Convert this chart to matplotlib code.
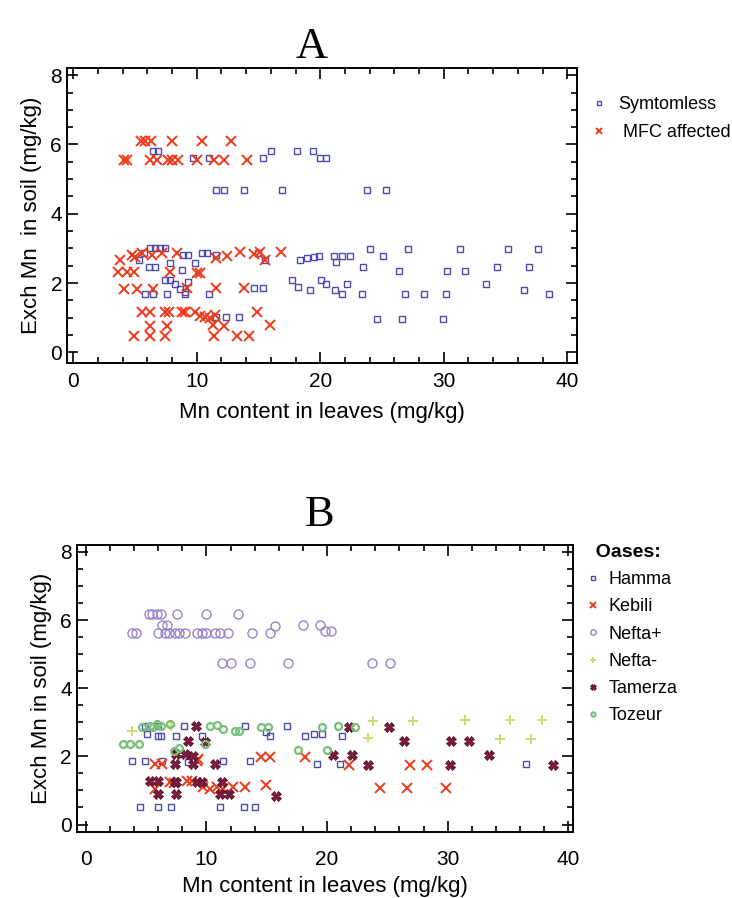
import numpy as np
import matplotlib
matplotlib.use("Agg")
import matplotlib.pyplot as plt
from matplotlib.ticker import MultipleLocator

plt.rcParams['font.family'] = ['Liberation Sans', 'DejaVu Sans']

# ---- panel A : symptomless vs MFC affected ----
sym_x = [6.5, 6.9, 9.7, 11.0, 15.4, 16.0, 18.1, 19.4, 20.0, 20.5,
         11.6, 12.2, 13.8, 16.9, 23.8, 25.3,
         6.2, 6.6, 7.0, 7.45, 5.7, 8.9, 9.3, 10.4, 10.8, 11.6, 5.3, 6.1, 6.6, 7.85,
         9.9, 8.8, 7.45, 7.85, 8.26, 8.66, 9.07, 9.3, 5.83, 6.5, 7.58, 9.07, 11.0,
         12.4, 13.4, 11.6, 14.6, 15.4, 15.0, 15.55,
         18.4, 18.9, 19.5, 19.9, 17.7, 18.2, 19.2,
         20.1, 20.5, 21.2, 21.3, 21.1, 21.8, 22.4, 21.8, 22.2, 23.4, 23.5, 24.0,
         24.6, 25.1, 26.4, 26.6, 26.9, 27.1, 28.4, 29.9, 30.2, 30.3, 31.3, 31.7,
         33.4, 34.3, 35.2, 36.5, 36.9, 37.6, 38.5]
sym_y = [5.8, 5.8, 5.6, 5.6, 5.6, 5.8, 5.8, 5.8, 5.6, 5.6,
         4.7, 4.7, 4.7, 4.7, 4.7, 4.7,
         3.0, 3.0, 3.0, 3.0, 2.86, 2.81, 2.81, 2.86, 2.86, 2.81, 2.66, 2.47, 2.47, 2.57,
         2.57, 2.37, 2.08, 2.08, 1.98, 1.84, 1.74, 2.03, 1.69, 1.69, 1.69, 1.69, 1.69,
         1.01, 1.01, 1.01, 1.86, 1.86, 2.88, 2.66,
         2.66, 2.71, 2.76, 2.78, 2.08, 1.88, 1.79,
         2.08, 1.98, 1.79, 2.61, 2.78, 2.78, 2.78, 1.68, 1.96, 1.68, 2.46, 2.97,
         0.96, 2.78, 2.36, 0.96, 1.68, 2.97, 1.68, 0.96, 1.68, 2.36, 2.97, 2.36,
         1.96, 2.46, 2.97, 1.79, 2.46, 2.97, 1.68]

mfc_x = [5.5, 5.8, 6.3, 8.0, 10.4, 12.8,
         4.1, 4.35, 6.2, 6.8, 7.7, 8.0, 8.5, 10.0, 11.4, 12.2, 14.1,
         3.8, 4.75, 5.0, 5.56, 6.37, 7.2, 8.4, 7.85, 10.0, 10.3, 3.67, 4.35, 4.9,
         4.1, 5.15, 6.5, 9.2, 11.6, 11.6, 12.44, 13.5, 14.6, 15.1, 15.5, 16.8, 13.8,
         5.56, 6.23, 7.45, 7.72, 8.8, 9.07, 9.9, 10.3, 10.7, 11.1, 11.5, 12.2,
         6.23, 7.6, 11.3, 4.9, 6.23, 7.45, 11.4, 13.25, 14.2, 14.9, 15.95]
mfc_y = [6.1, 6.1, 6.1, 6.1, 6.1, 6.1,
         5.55, 5.55, 5.55, 5.55, 5.55, 5.55, 5.55, 5.55, 5.55, 5.55, 5.55,
         2.66, 2.81, 2.76, 2.86, 2.81, 2.86, 2.86, 2.32, 2.3, 2.3, 2.32, 2.32, 2.32,
         1.84, 1.84, 1.84, 1.86, 1.86, 2.71, 2.78, 2.9, 2.85, 2.9, 2.66, 2.9, 1.86,
         1.18, 1.18, 1.18, 1.18, 1.18, 1.18, 1.16, 1.06, 1.01, 0.98, 1.08, 0.77,
         0.77, 0.77, 0.8, 0.48, 0.48, 0.48, 0.48, 0.48, 0.48, 1.16, 0.8]

# ---- panel B : by oasis ----
hamma_x = [4.9, 5.1, 6.0, 6.0, 6.2, 7.5, 8.1, 9.6, 13.2, 14.9, 15.3, 16.7, 18.2, 18.9, 19.6, 21.2,
           3.8, 4.9, 6.3, 8.5, 11.4, 13.6, 19.2, 21.1, 36.5,
           4.5, 6.0, 7.1, 11.1, 13.1, 14.0]
hamma_y = [2.9, 2.65, 2.9, 2.6, 2.6, 2.6, 2.9, 2.6, 2.9, 2.7, 2.6, 2.9, 2.6, 2.65, 2.65, 2.6,
           1.87, 1.87, 1.87, 1.83, 1.87, 1.87, 1.78, 1.78, 1.78,
           0.5, 0.5, 0.5, 0.5, 0.5, 0.5]

kebili_x = [5.75, 6.3, 9.2, 9.3, 14.5, 15.3, 18.2, 21.8,
            7.0, 7.3, 8.4, 8.8, 9.75, 10.3, 10.9, 11.4, 12.2, 13.2, 14.9, 5.75,
            24.4, 26.6, 29.9, 26.9, 28.3]
kebili_y = [1.78, 1.78, 1.87, 1.92, 1.97, 1.97, 1.97, 1.76,
            1.25, 1.22, 1.27, 1.27, 1.1, 1.05, 1.1, 1.05, 1.09, 1.09, 1.15, 1.04,
            1.07, 1.07, 1.07, 1.76, 1.76]

neftap_x = [5.2, 5.5, 5.9, 6.2, 7.55, 10.0, 12.65, 6.3, 6.7,
            3.8, 4.2, 6.0, 6.6, 6.9, 7.4, 7.7, 8.2, 9.2, 9.6, 10.0, 10.7, 11.1, 11.8, 13.8, 15.3,
            15.7, 18.0, 19.4, 19.8, 20.3,
            11.3, 12.0, 13.6, 16.8, 23.7, 25.2]
neftap_y = [6.17, 6.17, 6.17, 6.17, 6.17, 6.17, 6.17, 5.85, 5.85,
            5.63, 5.63, 5.63, 5.63, 5.63, 5.63, 5.63, 5.63, 5.63, 5.63, 5.63, 5.63, 5.63, 5.63, 5.63, 5.63,
            5.83, 5.85, 5.85, 5.68, 5.68,
            4.75, 4.75, 4.75, 4.75, 4.75, 4.75]

neftam_x = [23.8, 27.1, 31.4, 35.2, 37.8, 23.4, 34.3, 36.9, 3.8, 7.1]
neftam_y = [3.05, 3.05, 3.07, 3.07, 3.07, 2.55, 2.5, 2.5, 2.75, 2.9]

tamerza_x = [9.1, 8.5, 9.9, 7.5, 8.2, 8.9, 7.4, 8.9, 10.7, 5.3, 6.0, 7.4, 7.5, 9.2, 9.6, 11.3,
             6.0, 7.5, 11.1, 11.9, 15.8,
             21.8, 25.1, 26.4, 30.3, 31.8, 20.5, 22.1, 23.4, 30.2, 33.4, 38.7]
tamerza_y = [2.9, 2.46, 2.41, 2.07, 2.07, 2.0, 1.78, 1.78, 1.78, 1.27, 1.27, 1.25, 1.25, 1.25, 1.25, 1.25,
             0.9, 0.9, 0.9, 0.9, 0.85,
             2.85, 2.85, 2.44, 2.44, 2.44, 2.05, 2.05, 1.76, 1.76, 2.05, 1.76]

tozeur_x = [3.1, 3.7, 4.4, 4.65, 5.3, 5.6, 5.9, 6.2, 7.0, 7.3, 7.7, 9.9, 10.3, 10.9, 11.4,
            12.4, 12.7, 14.5, 15.1, 17.6, 19.6, 20.0, 20.9, 22.3]
tozeur_y = [2.36, 2.36, 2.36, 2.85, 2.9, 2.85, 2.95, 2.9, 2.95, 2.17, 2.25, 2.36, 2.9, 2.92, 2.8,
            2.75, 2.75, 2.85, 2.85, 2.2, 2.85, 2.2, 2.9, 2.87]

BLUE = '#4c4cb0'
RED = '#ee3a1a'


def style_axes(ax, xlim, ylim, xpad, labpad):
    ax.set_xlim(*xlim)
    ax.set_ylim(*ylim)
    ax.xaxis.set_major_locator(MultipleLocator(10))
    ax.xaxis.set_minor_locator(MultipleLocator(2))
    ax.yaxis.set_major_locator(MultipleLocator(2))
    ax.yaxis.set_minor_locator(MultipleLocator(0.5))
    ax.tick_params(which='both', direction='in', top=True, right=True, labelsize=15, width=1.2)
    ax.tick_params(which='major', length=8)
    ax.tick_params(which='minor', length=4)
    ax.tick_params(axis='x', which='major', pad=xpad)
    for s in ax.spines.values():
        s.set_linewidth(1.4)
    ax.set_xlabel("Mn content in leaves (mg/kg)", fontsize=16, labelpad=labpad)


fig = plt.figure(figsize=(7.32, 8.98), dpi=100)

# panel A
axA = fig.add_axes([0.0915, 0.596, 0.697, 0.328])
axA.plot(sym_x, sym_y, 's', ls='none', ms=5, mfc='none', mec=BLUE, mew=1.0, label='Symtomless')
axA.plot(mfc_x, mfc_y, 'x', ls='none', ms=6.5, color=RED, mew=1.4, label=' MFC affected')
style_axes(axA, (-0.5, 40.8), (-0.3, 8.2), 6.5, 8)
axA.set_ylabel("Exch Mn  in soil (mg/kg)", fontsize=16, labelpad=6)
axA.legend(loc='upper left', bbox_to_anchor=(1.01, 0.93), frameon=False, fontsize=13,
           markerscale=0.7, handlelength=1.0, handletextpad=0.6, labelspacing=0.6, borderaxespad=0)
fig.text(0.426, 0.948, "A", fontsize=32, family='Liberation Serif', ha='center', va='center')

# panel B
axB = fig.add_axes([0.105, 0.0735, 0.678, 0.3195])
axB.plot(hamma_x, hamma_y, 's', ls='none', ms=5, mfc='none', mec=BLUE, mew=1.0, label='Hamma')
axB.plot(kebili_x, kebili_y, 'x', ls='none', ms=6.5, color=RED, mew=1.4, label='Kebili')
axB.plot(neftap_x, neftap_y, 'o', ls='none', ms=6.5, mfc='none', mec='#9a82c8', mew=1.0, label='Nefta+')
axB.plot(neftam_x, neftam_y, '+', ls='none', ms=6.5, color='#cfd870', mew=1.4, label='Nefta-')
axB.plot(tamerza_x, tamerza_y, 'X', ls='none', ms=7, color='#7a1c3c', mec='#5a1030', mew=0.6, label='Tamerza')
axB.plot(tozeur_x, tozeur_y, 'o', ls='none', ms=5, mfc='none', mec='#78c078', mew=1.6, label='Tozeur')
style_axes(axB, (-0.74, 40.4), (-0.22, 8.2), 13, 5)
axB.set_ylabel("Exch Mn in soil (mg/kg)", fontsize=16, labelpad=6)
leg = axB.legend(loc='upper left', bbox_to_anchor=(1.01, 1.03), frameon=False, fontsize=13,
                 title='  Oases:', markerscale=0.6, handlelength=0.8, handletextpad=0.5,
                 labelspacing=0.57, borderaxespad=0, alignment='left')
leg.get_title().set_fontsize(14)
leg.get_title().set_fontweight('bold')
fig.text(0.437, 0.4265, "B", fontsize=32, family='Liberation Serif', ha='center', va='center')

fig.savefig("out.png", dpi=100)
